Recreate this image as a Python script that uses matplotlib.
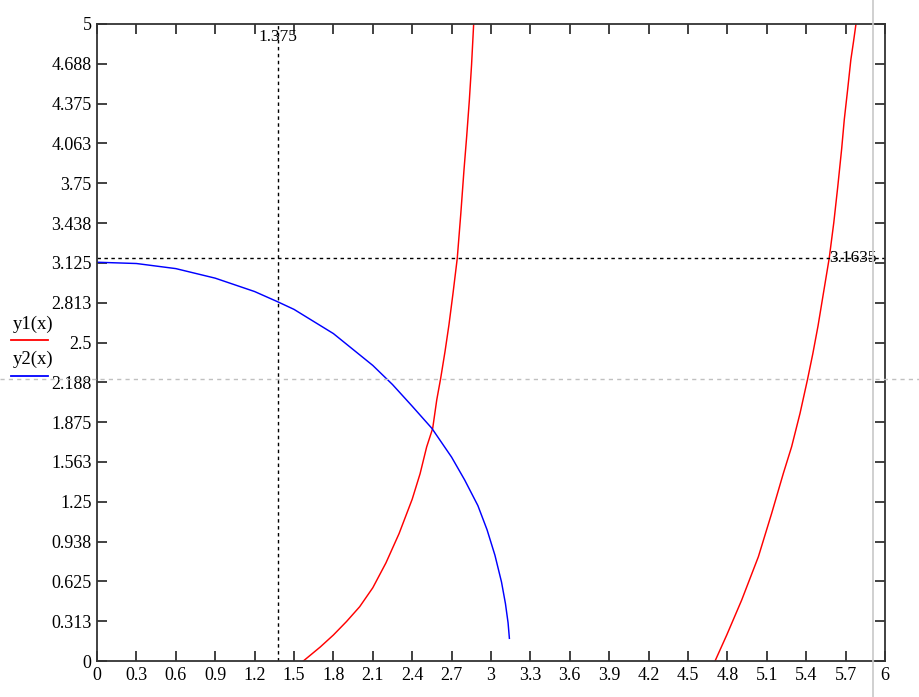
import numpy as np
import matplotlib.pyplot as plt
from matplotlib.lines import Line2D

# points
x1a = [1.571, 1.70, 1.80, 1.90, 2.00, 2.10, 2.20, 2.30, 2.40, 2.46, 2.51, 2.556, 2.587,
       2.617, 2.65, 2.68, 2.71, 2.743, 2.77, 2.794, 2.815, 2.835, 2.852, 2.868]
y1a = [0.0, 0.11, 0.204, 0.31, 0.426, 0.575, 0.77, 1.0, 1.27, 1.47, 1.68, 1.826, 2.05,
       2.22, 2.43, 2.64, 2.88, 3.16, 3.51, 3.85, 4.12, 4.40, 4.68, 5.0]
x1b = [4.706, 4.795, 4.909, 5.036, 5.137, 5.226, 5.289, 5.353, 5.41, 5.45, 5.49, 5.53,
       5.575, 5.61, 5.64, 5.67, 5.69, 5.715, 5.74, 5.76, 5.779]
y1b = [0.0, 0.204, 0.479, 0.819, 1.159, 1.473, 1.682, 1.944, 2.21, 2.41, 2.63, 2.88,
       3.16, 3.44, 3.72, 4.02, 4.25, 4.48, 4.72, 4.86, 5.0]
x2 = [0.0, 0.3, 0.6, 0.9, 1.2, 1.375, 1.5, 1.8, 2.1, 2.25, 2.4, 2.55, 2.7, 2.8, 2.9,
      2.97, 3.03, 3.08, 3.11, 3.13, 3.14]
y2 = [3.13, 3.12, 3.08, 3.005, 2.90, 2.82, 2.76, 2.57, 2.32, 2.17, 2.00, 1.826, 1.60,
      1.42, 1.22, 1.03, 0.83, 0.62, 0.45, 0.30, 0.178]

x_trace = 1.375
y_trace = 3.1635

xticks = np.round(np.arange(0, 6.01, 0.3), 1)
xlabels = ['0', '0.3', '0.6', '0.9', '1.2', '1.5', '1.8', '2.1', '2.4', '2.7', '3', '3.3',
           '3.6', '3.9', '4.2', '4.5', '4.8', '5.1', '5.4', '5.7', '6']
yticks = np.arange(0, 5.01, 0.3125)
ylabels = ['0', '0.313', '0.625', '0.938', '1.25', '1.563', '1.875', '2.188', '2.5', '2.813',
           '3.125', '3.438', '3.75', '4.063', '4.375', '4.688', '5']

plt.rcParams['font.family'] = ['Liberation Serif', 'DejaVu Serif']

fig = plt.figure(figsize=(9.19, 6.97), dpi=100)
ax = fig.add_axes([97 / 919, 36 / 697, 788 / 919, 637 / 697])

ax.plot(x1a, y1a, color='#ff0000', lw=1.05)
ax.plot(x1b, y1b, color='#ff0000', lw=1.05)
ax.plot(x2, y2, color='#0000ff', lw=1.05)

ax.axvline(x_trace, color='black', lw=1.0, ls=(0, (2.5, 2.5)))
ax.axhline(y_trace, color='black', lw=1.0, ls=(0, (2.5, 2.5)))
ax.text(x_trace, 4.96, '1.375', ha='center', va='top', fontsize=12.5)
ax.text(5.572, y_trace, '3.1635', ha='left', va='center', fontsize=12.5, clip_on=False)

ax.set_xlim(0, 6)
ax.set_ylim(0, 5)
ax.set_xticks(xticks)
ax.set_xticklabels(xlabels, fontsize=13)
ax.set_yticks(yticks)
ax.set_yticklabels(ylabels, fontsize=13)
ax.tick_params(direction='in', length=7, width=1.3, color='#333333',
               top=True, right=True, pad=4)
for s in ax.spines.values():
    s.set_linewidth(1.3)
    s.set_color('#333333')

# legend on the left
fig.text(13 / 919, 1 - 324 / 697, 'y1(x)', fontsize=13.5, va='center', ha='left')
fig.add_artist(Line2D([11 / 919, 48 / 919], [1 - 340 / 697] * 2, color='#ff0000', lw=1.3))
fig.text(13 / 919, 1 - 359 / 697, 'y2(x)', fontsize=13.5, va='center', ha='left')
fig.add_artist(Line2D([11 / 919, 48 / 919], [1 - 376 / 697] * 2, color='#0000ff', lw=1.3))

# gray cursor lines across the whole figure
fig.add_artist(Line2D([873 / 919] * 2, [0, 1], color='#c8c8c8', lw=1.2))
fig.add_artist(Line2D([0, 1], [1 - 379 / 697] * 2, color='#c0c0c0', lw=1.0, ls=(0, (3, 3))))

fig.savefig('out.png', dpi=100)
